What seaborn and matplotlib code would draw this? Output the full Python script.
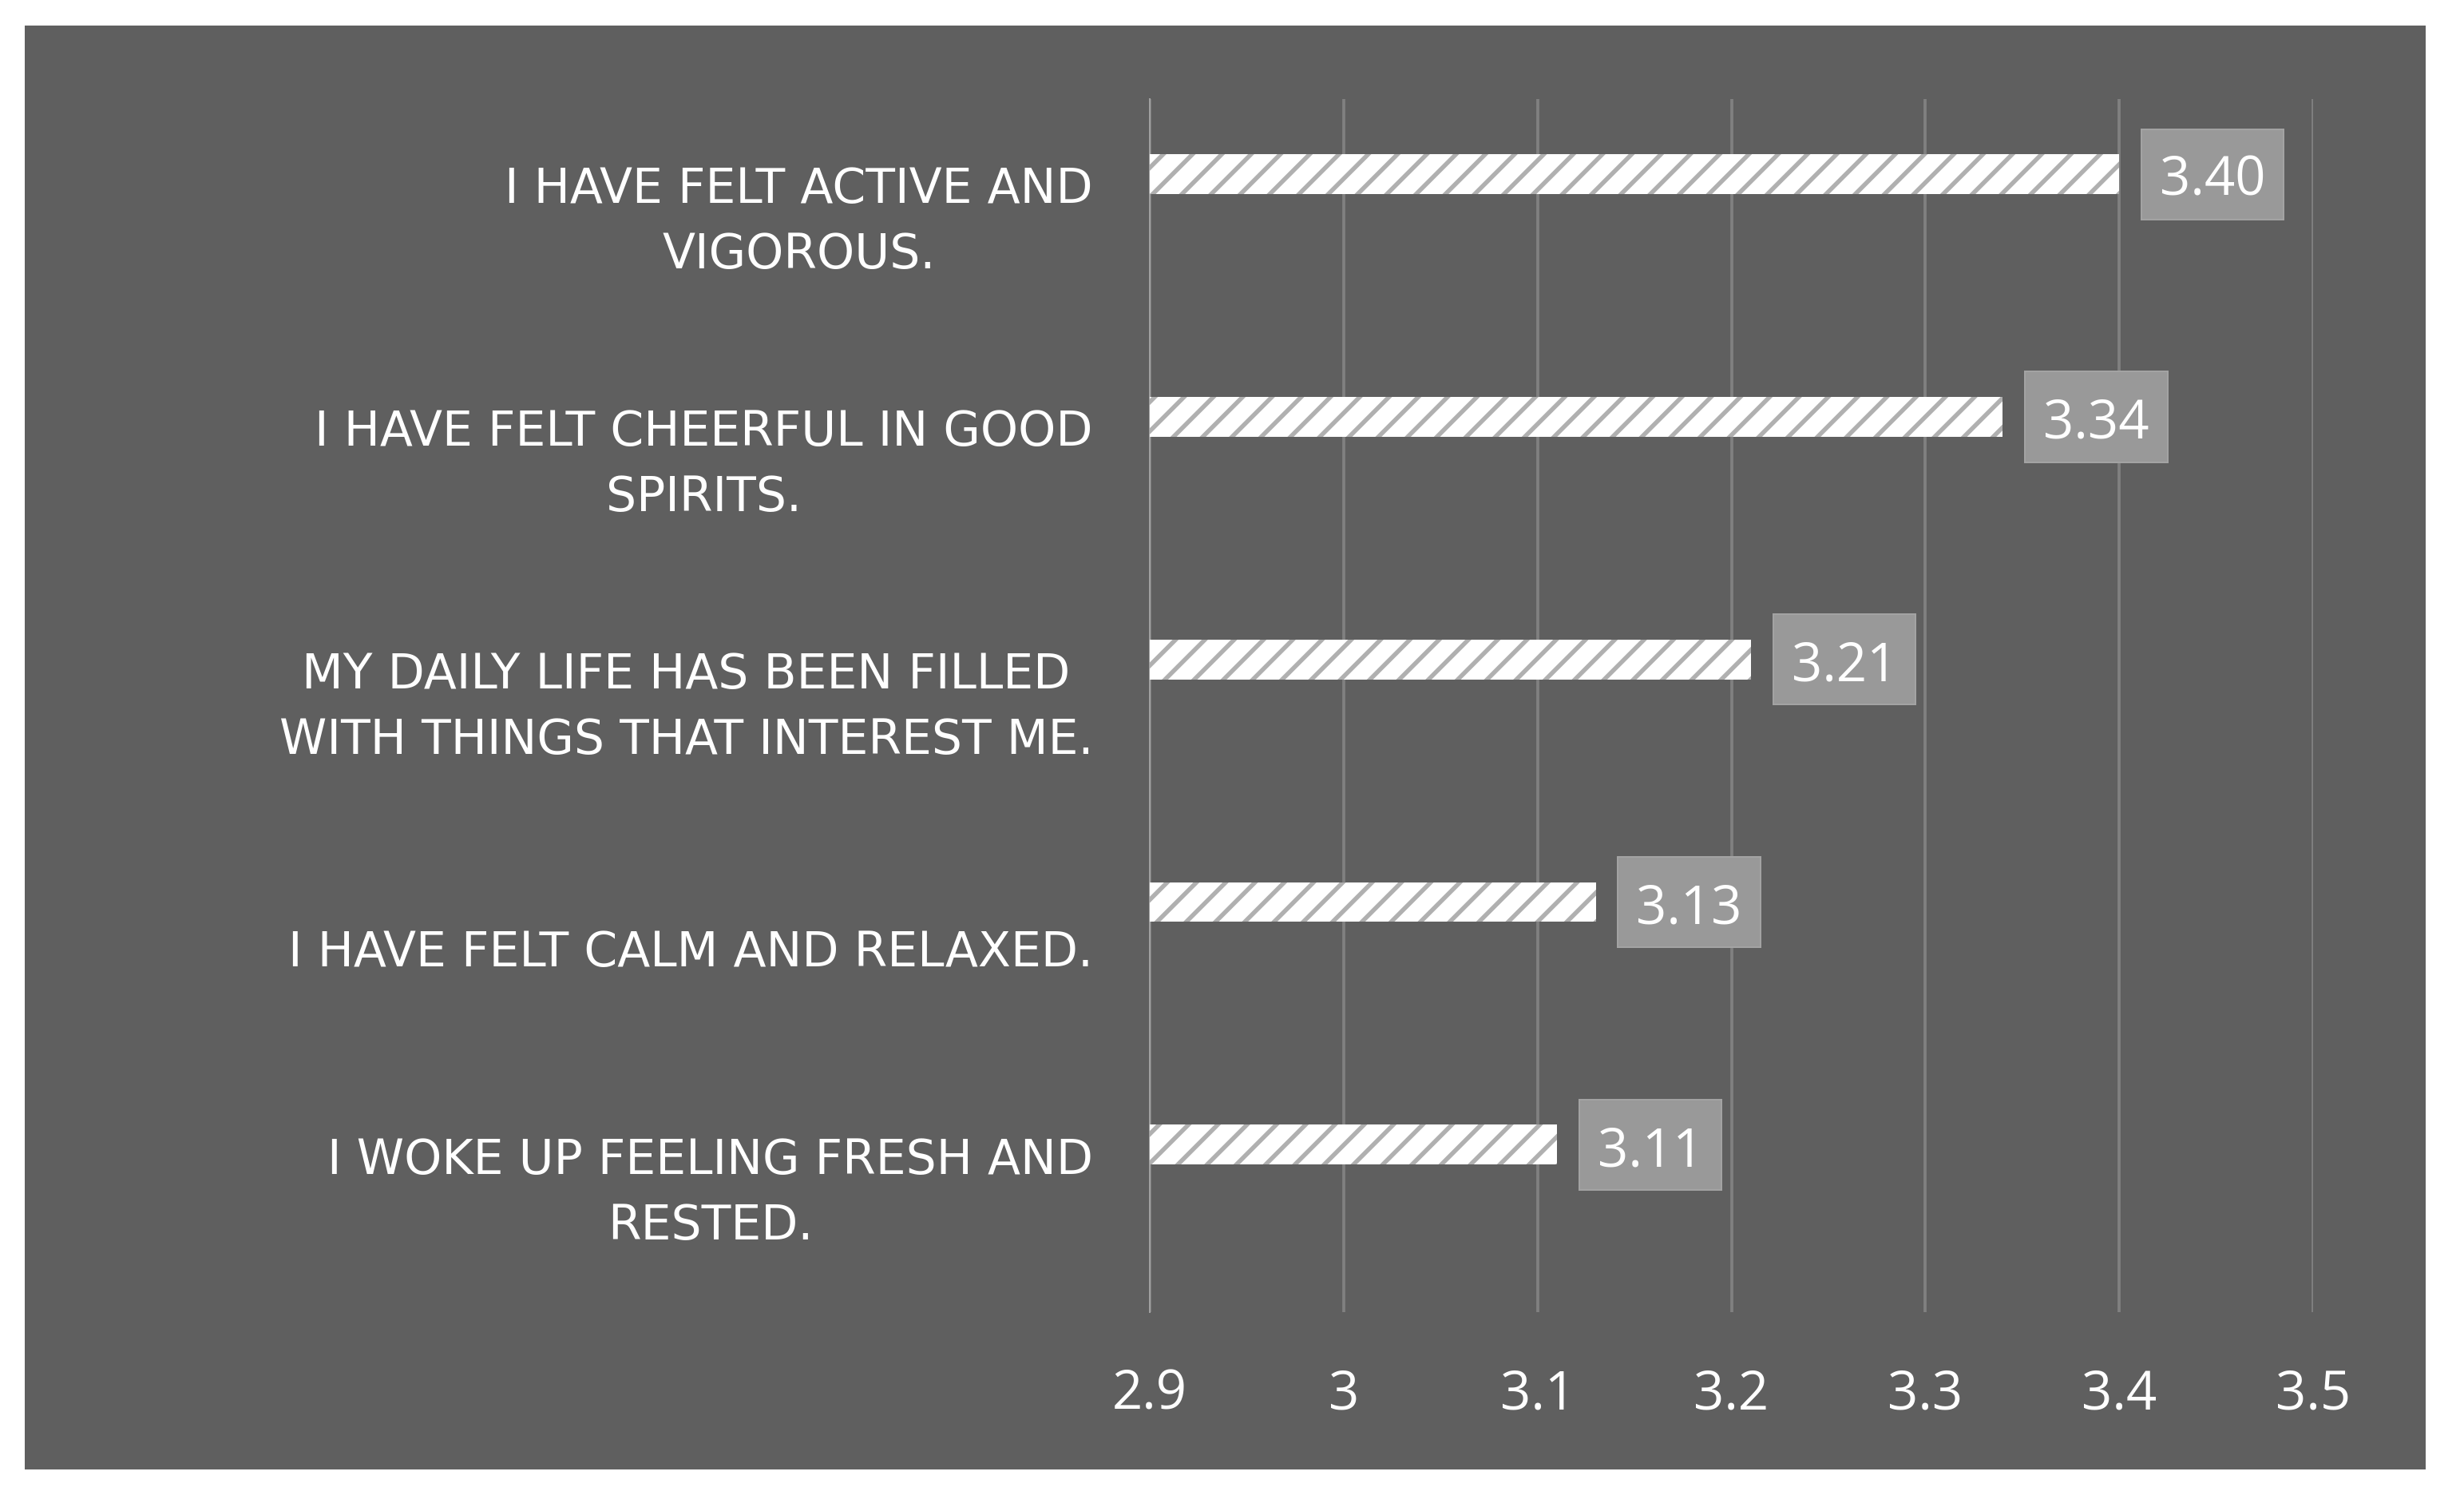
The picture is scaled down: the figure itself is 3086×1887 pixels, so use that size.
import matplotlib
matplotlib.use("Agg")
import matplotlib.pyplot as plt
from matplotlib.patches import Rectangle, BoxStyle
from matplotlib.transforms import ScaledTranslation
import pandas as pd
import seaborn as sns

# data
statements = [
    "I HAVE FELT ACTIVE AND\nVIGOROUS.",
    "I HAVE FELT CHEERFUL IN GOOD\nSPIRITS.",
    "MY DAILY LIFE HAS BEEN FILLED\nWITH THINGS THAT INTEREST ME.",
    "I HAVE FELT CALM AND RELAXED.",
    "I WOKE UP FEELING FRESH AND\nRESTED.",
]
scores = [3.40, 3.34, 3.21, 3.13, 3.11]
x_ticks = [2.9, 3.0, 3.1, 3.2, 3.3, 3.4, 3.5]
x_tick_labels = ["2.9", "3", "3.1", "3.2", "3.3", "3.4", "3.5"]

df = pd.DataFrame({"statement": statements, "score": scores})

W, H = 3086, 1887
DPI = 110


def pt(px):
    # pixel size -> points at the chosen dpi
    return px * 72 / DPI


class RaisedSquare(BoxStyle.Square):
    # square label box nudged up so the digits sit in its middle
    def __init__(self, pad=0.3, lift=0.0):
        super().__init__(pad=pad)
        self.lift = lift

    def __call__(self, x0, y0, width, height, mutation_size):
        return super().__call__(x0, y0 + self.lift, width, height, mutation_size)


# --- style ---
sns.set_style("white")
plt.rcParams["font.family"] = ["DejaVu Sans"]
plt.rcParams["hatch.linewidth"] = pt(5.5)
plt.rcParams["hatch.color"] = "#b0b0b0"

BG = "#5f5f5f"
fig = plt.figure(figsize=(W / DPI, H / DPI), dpi=DPI, facecolor="white")

# grey chart area (Excel chart box), behind the axes
fig.patches.append(Rectangle((31 / W, 1 - 1840 / H), (3038 - 31) / W,
                             (1840 - 32) / H, transform=fig.transFigure,
                             facecolor=BG, edgecolor="none", zorder=-5))

ax = fig.add_axes([1440 / W, 1 - 1643 / H, (2897 - 1440) / W, (1643 - 124) / H])
ax.set_facecolor("none")

sns.barplot(data=df, x="score", y="statement", orient="h", ax=ax,
            color="white", width=0.164, edgecolor="#b0b0b0", linewidth=0,
            hatch="/", saturation=1, zorder=3)

# category offset like the excel layout (bars sit above the label centre)
off = 0.19
ax.set_ylim(len(statements) - 0.5 + off, -0.5 + off)
ax.set_yticks([i + off for i in range(len(statements))])
ax.set_yticklabels(statements, color="white", fontsize=pt(60), multialignment="center",
                   linespacing=1.5)
ax.tick_params(axis="y", length=0, pad=pt(71))
# two-line labels sit a little high in excel
for lab in ax.get_yticklabels():
    if "\n" in lab.get_text():
        lab.set_transform(lab.get_transform() +
                          ScaledTranslation(0, pt(15) / 72, fig.dpi_scale_trans))

ax.set_xlim(2.9, 3.5)
ax.set_xticks(x_ticks)
ax.set_xticklabels(x_tick_labels, color="white", fontsize=pt(67),
                   family=["Open Sans", "DejaVu Sans"])
ax.tick_params(axis="x", length=0, pad=pt(70))

ax.grid(axis="x", color="#808080", linewidth=pt(3.8), zorder=0)
ax.grid(axis="y", visible=False)
for s in ["top", "right", "bottom"]:
    ax.spines[s].set_visible(False)
ax.spines["left"].set_color("#a0a0a0")
ax.spines["left"].set_linewidth(pt(2))
ax.set_xlabel("")
ax.set_ylabel("")

# value labels in grey boxes
for i, v in enumerate(scores):
    ax.annotate(f"{v:.2f}", xy=(v, i), xytext=(pt(117), -pt(9)), textcoords="offset points",
                ha="center", va="center", color="white", fontsize=pt(67),
                family=["Open Sans", "DejaVu Sans"], zorder=5,
                bbox=dict(boxstyle=RaisedSquare(pad=0.34, lift=9), facecolor="#999999",
                          edgecolor="#a3a3a3", linewidth=pt(2)))

fig.savefig("out.png", dpi=DPI, facecolor="white")
